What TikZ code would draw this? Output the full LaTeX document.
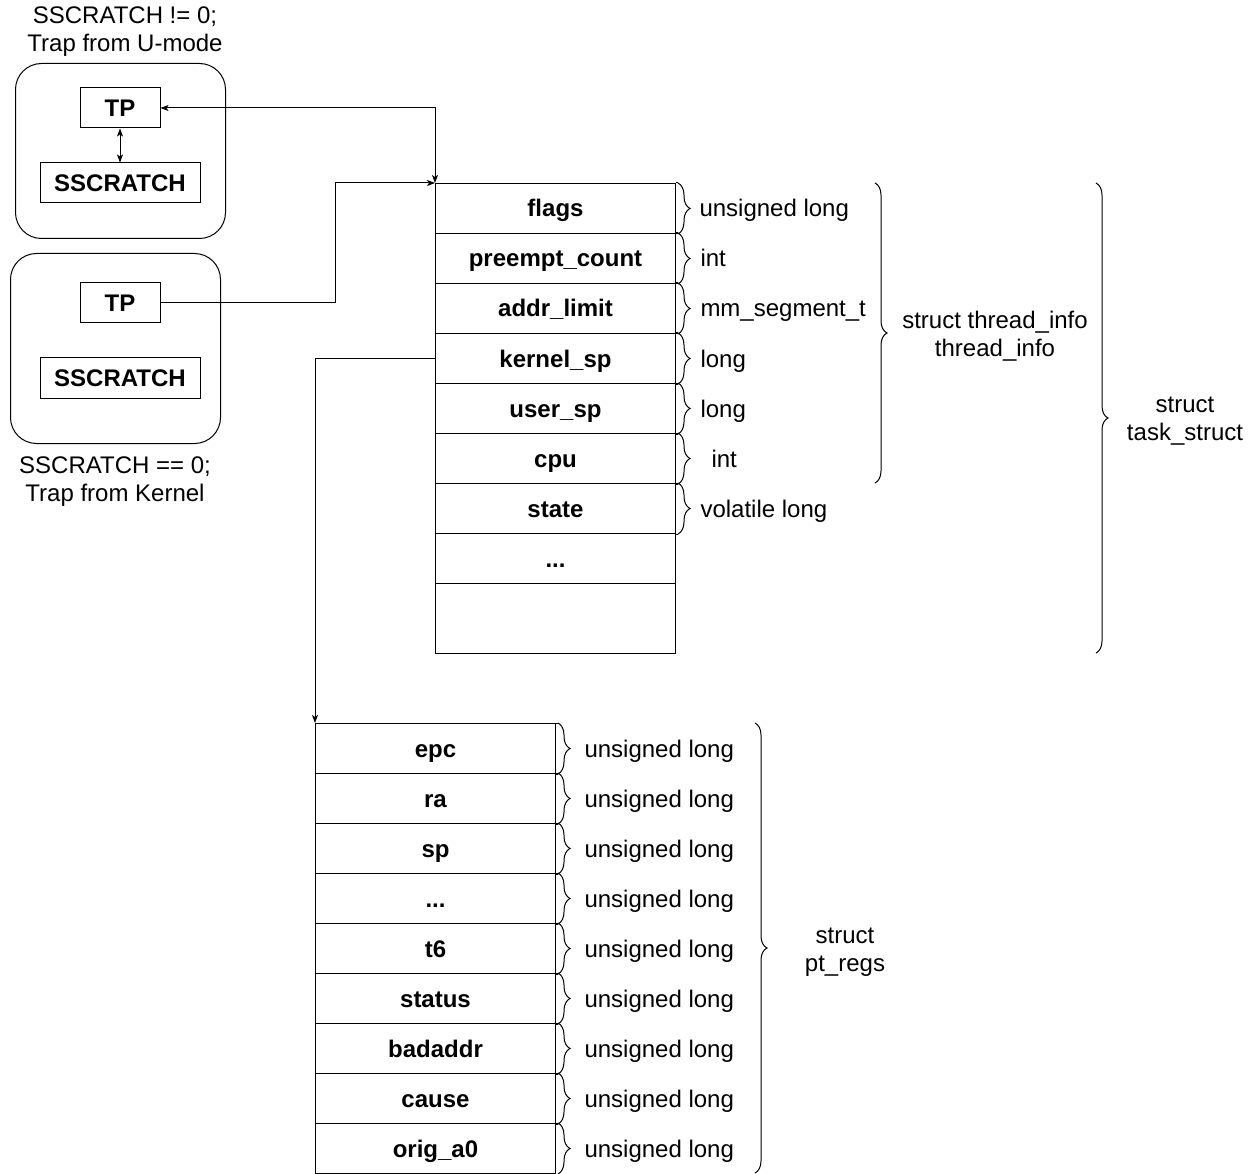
\documentclass[tikz,border=0pt]{standalone}
\usepackage{fontspec}
\setmainfont{Liberation Sans}
\usetikzlibrary{arrows.meta,decorations.pathreplacing,calc}
\begin{document}
\begin{tikzpicture}[x=1pt,y=-1pt,
  every node/.style={font=\fontsize{24}{28}\selectfont},
  line width=1pt,
  oneline/.style={text height=22pt,text depth=5pt},
  cell/.style={draw,oneline,anchor=north west,minimum width=240pt,minimum height=50pt,inner sep=0pt,font=\fontsize{24}{28}\selectfont\bfseries},
  reg/.style={draw,oneline,minimum height=40pt,inner sep=0pt,font=\fontsize{24}{28}\selectfont\bfseries},
  group/.style={draw,rounded corners=26pt,anchor=north west},
  typ/.style={oneline,anchor=west,inner sep=0pt},
  brc/.style={decorate,decoration={brace,amplitude=12pt}},
  tipend/.style={-{Stealth[length=8pt,width=6pt,inset=2pt]}},
  tipboth/.style={{Stealth[length=8pt,width=6pt,inset=2pt]}-{Stealth[length=8pt,width=6pt,inset=2pt]}},
  note/.style={align=center,inner sep=0pt}]
\useasboundingbox (0,0) rectangle (1256,1174);

% register contexts
\node[group,minimum width=210pt,minimum height=175pt] (umode) at (15,63) {};
\node[group,minimum width=210pt,minimum height=190pt] (kmode) at (10,253) {};
\node[reg,minimum width=80pt] (tp1) at (120,108) {TP};
\node[reg,minimum width=160pt] (ss1) at (120,183) {SSCRATCH};
\node[reg,minimum width=80pt] (tp2) at (120,303) {TP};
\node[reg,minimum width=160pt] (ss2) at (120,378) {SSCRATCH};
\node[note] (ulabel) at (125,32) {SSCRATCH != 0;\\Trap from U-mode};
\node[note] (klabel) at (115,482) {SSCRATCH == 0;\\Trap from Kernel};

% task_struct layout
\node[cell] (flags) at (435,183) {flags};
\node[cell] (preempt) at (435,233) {preempt\_count};
\node[cell] (addr) at (435,283) {addr\_limit};
\node[cell] (ksp) at (435,333) {kernel\_sp};
\node[cell] (usp) at (435,383) {user\_sp};
\node[cell] (cpu) at (435,433) {cpu};
\node[cell] (state) at (435,483) {state};
\node[cell] (more1) at (435,533) {...};
\node[cell,minimum height=70pt] (rest1) at (435,583) {};

\foreach \n/\t/\d in {flags/unsigned long/23,preempt/int/24,addr/mm\_segment\_t/24,ksp/long/24,usp/long/24,cpu/int/35,state/volatile long/24}{
  \draw (\n.north east) -- ++(2,0);
  \draw (\n.south east) -- ++(2,0);
  \draw[brc] ($(\n.north east)+(2,0)$) -- ($(\n.south east)+(2,0)$);
  \node[typ] (t-\n) at ($(\n.east)+(\d,0)$) {\t};
}

\coordinate (ti-top) at (875,183);
\coordinate (ti-bot) at (875,483);
\draw[brc] (ti-top) -- (ti-bot);
\node[note] (ti) at (995,336) {struct thread\_info\\thread\_info};

\coordinate (ts-top) at (1096,183);
\coordinate (ts-bot) at (1096,653);
\draw[brc] (ts-top) -- (ts-bot);
\node[note] (ts) at (1185,421) {struct\\task\_struct};

% pt_regs layout
\node[cell] (epc) at (315,723) {epc};
\node[cell] (ra) at (315,773) {ra};
\node[cell] (sp) at (315,823) {sp};
\node[cell] (more2) at (315,873) {...};
\node[cell] (t6) at (315,923) {t6};
\node[cell] (status) at (315,973) {status};
\node[cell] (badaddr) at (315,1023) {badaddr};
\node[cell] (cause) at (315,1073) {cause};
\node[cell] (origa) at (315,1123) {orig\_a0};

\foreach \n in {epc,ra,sp,more2,t6,status,badaddr,cause,origa}{
  \draw (\n.north east) -- ++(2,0);
  \draw (\n.south east) -- ++(2,0);
  \draw[brc] ($(\n.north east)+(2,0)$) -- ($(\n.south east)+(2,0)$);
  \node[typ] (t-\n) at ($(\n.east)+(28,0)$) {unsigned long};
}

\coordinate (pr-top) at (755,723);
\coordinate (pr-bot) at (755,1173);
\draw[brc] (pr-top) -- (pr-bot);
\node[note] (pr) at (845,952) {struct\\pt\_regs};

% pointers
\draw[tipboth] (tp1.east) -| (flags.north west);
\draw[tipboth] (tp1.south) -- (ss1.north);
\draw[tipend] (tp2.east) -- (335,303) |- (flags.north west);
\draw[tipend] (ksp.west) -| (epc.north west);
\end{tikzpicture}
\end{document}
